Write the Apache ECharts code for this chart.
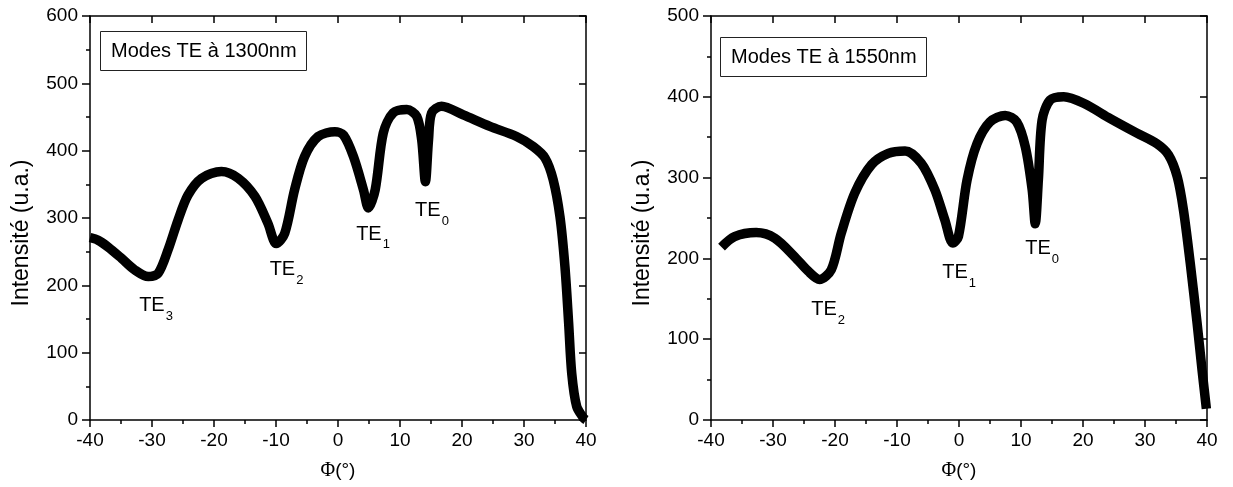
<!DOCTYPE html>
<html>
<head>
<meta charset="utf-8">
<script src="https://cdn.jsdelivr.net/npm/echarts@6/dist/echarts.min.js"></script>
<style>
html,body{margin:0;padding:0;background:#fff;}
#c{width:1233px;height:487px;}
</style>
</head>
<body>
<div id="c"></div>
<script>
// ---- data ----
const phi1300 = [-40, -38.7, -37.1, -34.9, -32.8, -30.6, -29.0, -27.4, -25.8, -24.2, -22.0, -18.8, -16.1, -13.4, -11.3, -9.95, -8.6, -7.0, -5.4, -3.2, -0.5, 0.9, 2.5, 4.1, 4.9, 6.0, 7.3, 8.9, 11.1, 12.7, 13.5, 14.1, 14.6, 15.1, 16.7, 20.2, 24.5, 28.8, 31.5, 33.4, 34.7, 35.8, 36.6, 37.2, 37.7, 38.5, 39.6, 40];
const int1300 = [271, 267, 257, 240, 223, 213, 218, 253, 297, 334, 359, 369, 359, 332, 292, 262, 277, 342, 391, 421, 428, 423, 391, 342, 315, 342, 426, 456, 461, 451, 416, 354, 416, 456, 466, 453, 436, 421, 406, 389, 357, 302, 228, 144, 69, 20, 3, 0];

const phi1550 = [-38.3, -36.2, -32.7, -29.7, -26.5, -24.3, -22.5, -20.6, -19.0, -16.8, -14.1, -11.4, -8.7, -6.1, -3.9, -2.3, -1.0, -0.1, 1.3, 2.9, 5.0, 7.45, 9.3, 10.7, 11.8, 12.3, 12.8, 13.4, 14.7, 16.9, 20.1, 24.4, 28.7, 31.9, 33.8, 35.2, 36.2, 37.3, 38.4, 39.2, 39.9];
const int1550 = [214, 227, 232, 225, 202, 184, 174, 186, 231, 281, 316, 330, 333, 318, 285, 248, 219, 227, 297, 342, 369, 377, 369, 338, 285, 243, 297, 371, 396, 400, 392, 373, 355, 342, 328, 301, 260, 194, 120, 62, 14];

// mode annotations (label anchor in data coordinates)
const modes1300 = ['3', '2', '1', '0'];
const modePhi1300 = [-29.35, -8.3, 5.65, 15.16];
const modeInt1300 = [169.7, 222.9, 276, 310.8];

const modes1550 = ['2', '1', '0'];
const modePhi1550 = [-21.1, 0.03, 13.42];
const modeInt1550 = [136.5, 182, 211.9];

const boxTitles = ['Modes TE à 1300nm', 'Modes TE à 1550nm'];
const yName = 'Intensité (u.a.)';
const yMax = [600, 500];

// ---- chart ----
const FONT = 'Liberation Sans, Arial, sans-serif';
const AX = { color: '#000', width: 1.5 };

function pairs(xs, ys) { return xs.map((x, i) => [x, ys[i]]); }

function xAxes(grid) {
  return [
    {
      gridIndex: grid, type: 'value', min: -40, max: 40, interval: 10, position: 'bottom',
      axisLine: { show: true, onZero: false, lineStyle: AX },
      axisTick: { show: true, inside: false, length: 7, lineStyle: AX },
      minorTick: { show: true, splitNumber: 2, length: 4, lineStyle: AX },
      splitLine: { show: false }, minorSplitLine: { show: false },
      axisLabel: { fontSize: 19, color: '#000', margin: 11, fontFamily: FONT },
      name: '{phi|Φ}{p|(°)}', nameLocation: 'middle', nameGap: 41,
      nameTextStyle: {
        color: '#000',
        rich: {
          phi: { fontFamily: 'Liberation Serif, serif', fontSize: 20, color: '#000' },
          p: { fontFamily: FONT, fontSize: 19, color: '#000' }
        }
      }
    },
    {
      gridIndex: grid, type: 'value', min: -40, max: 40, interval: 10, position: 'top',
      axisLine: { show: true, onZero: false, lineStyle: AX },
      axisTick: { show: true, inside: true, length: 7, lineStyle: AX },
      axisLabel: { show: false }, splitLine: { show: false }
    }
  ];
}

function yAxes(grid, max) {
  return [
    {
      gridIndex: grid, type: 'value', min: 0, max: max, interval: 100, position: 'left',
      axisLine: { show: true, onZero: false, lineStyle: AX },
      axisTick: { show: true, inside: false, length: 8, lineStyle: AX },
      minorTick: { show: true, splitNumber: 2, length: 4, lineStyle: AX },
      splitLine: { show: false }, minorSplitLine: { show: false },
      axisLabel: { fontSize: 19, color: '#000', margin: 12, fontFamily: FONT },
      name: yName, nameLocation: 'middle', nameGap: 57, nameRotate: 90,
      nameTextStyle: { fontSize: 23, color: '#000', fontFamily: FONT, padding: [0, 30, 0, 0] }
    },
    {
      gridIndex: grid, type: 'value', min: 0, max: max, interval: 100, position: 'right',
      axisLine: { show: true, onZero: false, lineStyle: AX },
      axisTick: { show: true, inside: true, length: 7, lineStyle: AX },
      axisLabel: { show: false }, splitLine: { show: false }
    }
  ];
}

function curve(xi, yi, data) {
  return {
    type: 'line', xAxisIndex: xi, yAxisIndex: yi, data: data,
    showSymbol: false, symbol: 'none', smooth: 0.3,
    lineStyle: { color: '#000', width: 9.5, cap: 'butt', join: 'round' },
    silent: true, animation: false, z: 3
  };
}

function labels(xi, yi, xs, ys, subs) {
  return {
    type: 'scatter', xAxisIndex: xi, yAxisIndex: yi, data: pairs(xs, ys),
    symbolSize: 1, itemStyle: { color: 'rgba(255,255,255,0)', opacity: 1 }, silent: true, animation: false,
    label: {
      show: true, position: 'inside', color: '#000', opacity: 1, textBorderWidth: 0, textBorderColor: 'transparent',
      formatter: p => '{a|TE}{b|' + subs[p.dataIndex] + '}',
      rich: {
        a: { fontSize: 20, lineHeight: 20, color: '#000', fontFamily: FONT, textBorderWidth: 0 },
        b: { fontSize: 13, lineHeight: 13, color: '#000', fontFamily: FONT, verticalAlign: 'top', padding: [14, 0, 0, 1], textBorderWidth: 0 }
      }
    },
    z: 5
  };
}

const chart = echarts.init(document.getElementById('c'), null, { renderer: 'canvas' });
chart.setOption({
  backgroundColor: '#fff',
  animation: false,
  textStyle: { fontFamily: FONT },
  title: [
    { text: boxTitles[0], left: 100, top: 31, borderColor: '#222', borderWidth: 1, padding: [9, 10, 9, 11],
      textStyle: { fontSize: 20, fontWeight: 'normal', color: '#000', fontFamily: FONT, lineHeight: 22 } },
    { text: boxTitles[1], left: 720, top: 37, borderColor: '#222', borderWidth: 1, padding: [9, 10, 9, 11],
      textStyle: { fontSize: 20, fontWeight: 'normal', color: '#000', fontFamily: FONT, lineHeight: 22 } }
  ],
  grid: [
    { left: 90, top: 16, width: 496, height: 404 },
    { left: 711, top: 16, width: 496, height: 404 }
  ],
  xAxis: [...xAxes(0), ...xAxes(1)],
  yAxis: [...yAxes(0, yMax[0]), ...yAxes(1, yMax[1])],
  series: [
    curve(0, 0, pairs(phi1300, int1300)),
    curve(2, 2, pairs(phi1550, int1550)),
    labels(0, 0, modePhi1300, modeInt1300, modes1300),
    labels(2, 2, modePhi1550, modeInt1550, modes1550)
  ]
});
</script>
</body>
</html>
